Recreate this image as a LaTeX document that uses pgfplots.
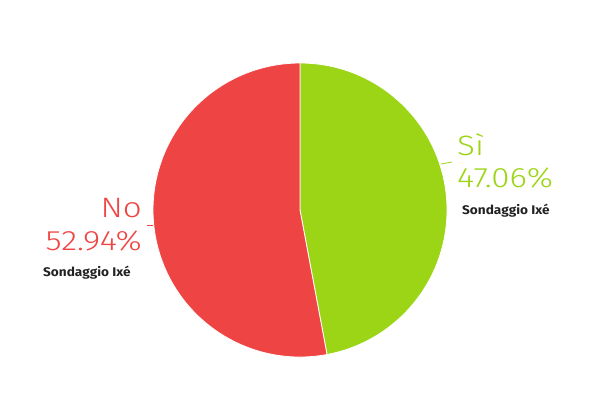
\documentclass[border=0pt]{standalone}
\usepackage{pgfplots}
\pgfplotsset{compat=1.18}
\usepackage{pgfplotstable}
\usepackage{fontspec}
\setmainfont{Fira Sans}
\newfontfamily\lightfont{Fira Sans Light}[FakeStretch=1.18]
\newfontfamily\boldfont{Fira Sans Bold}[FakeStretch=1.09]
\definecolor{sigreen}{HTML}{9CD416}
\definecolor{nored}{HTML}{EF4444}
\definecolor{labgray}{HTML}{222222}

\pgfplotstableread{
label value
Si 47.06
No 52.94
}\pietable

\begin{document}
\begin{tikzpicture}
\pgfplotstablegetelem{0}{value}\of\pietable \let\vsi\pgfplotsretval
\pgfplotstablegetelem{1}{value}\of\pietable \let\vno\pgfplotsretval
\pgfmathsetmacro{\asi}{90-3.6*\vsi}
\pgfmathsetmacro{\ano}{\asi-3.6*\vno}
\begin{axis}[
    x=1pt, y=1pt,
    xmin=0, xmax=600, ymin=0, ymax=400,
    y dir=reverse,
    hide axis,
    clip=false,
]
\path (axis cs:0,0) rectangle (axis cs:600,400);
% slices, clockwise from the top
\fill[sigreen, draw=white, line width=0.8pt] (axis cs:300,210) -- ++(90:147pt)
    arc[start angle=90, end angle=\asi, radius=147pt] -- cycle;
\fill[nored, draw=white, line width=0.8pt] (axis cs:300,210) -- ++(\asi:147pt)
    arc[start angle=\asi, end angle=\ano, radius=147pt] -- cycle;
% leader lines
\draw[sigreen, line width=0.8pt] (axis cs:441,164) -- (axis cs:452,162);
\draw[nored, line width=0.8pt] (axis cs:147,225) -- (axis cs:153,225);
% labels
\node[anchor=base west, inner sep=0, text=sigreen, font=\lightfont\fontsize{28}{30}\selectfont] at (axis cs:457,155) {Sì};
\node[anchor=base west, inner sep=0, text=sigreen, font=\lightfont\fontsize{28}{30}\selectfont] at (axis cs:457,187) {47.06\%};
\node[anchor=base west, inner sep=0, text=labgray, font=\boldfont\fontsize{12.5}{14}\selectfont] at (axis cs:462,214) {Sondaggio Ixé};
\node[anchor=base east, inner sep=0, text=nored, font=\lightfont\fontsize{28}{30}\selectfont] at (axis cs:142,217) {No};
\node[anchor=base east, inner sep=0, text=nored, font=\lightfont\fontsize{28}{30}\selectfont] at (axis cs:142,250) {52.94\%};
\node[anchor=base west, inner sep=0, text=labgray, font=\boldfont\fontsize{12.5}{14}\selectfont] at (axis cs:43,276) {Sondaggio Ixé};
\end{axis}
\end{tikzpicture}
\end{document}
